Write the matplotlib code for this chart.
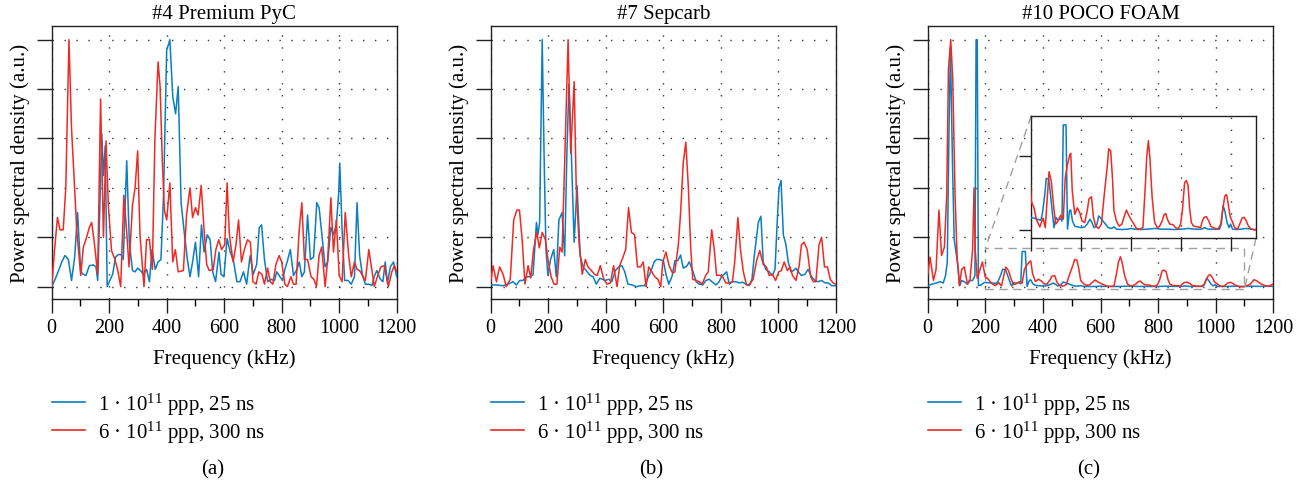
import matplotlib
matplotlib.use("Agg")
import matplotlib.pyplot as plt
from matplotlib.ticker import MultipleLocator
from matplotlib.lines import Line2D
from mpl_toolkits.axes_grid1.inset_locator import mark_inset

plt.rcParams['font.family'] = ['Liberation Serif', 'DejaVu Serif']
plt.rcParams['mathtext.fontset'] = 'custom'
plt.rcParams['mathtext.rm'] = 'Liberation Serif'
plt.rcParams['mathtext.it'] = 'Liberation Serif:italic'

BLUE = '#0b7dc2'
RED = '#ee2a24'

titles = ['#4 Premium PyC', '#7 Sepcarb', '#10 POCO FOAM']
captions = ['(a)', '(b)', '(c)']
series_labels = ['1 · 10$^{11}$ ppp, 25 ns', '6 · 10$^{11}$ ppp, 300 ns']
x_ticks = [0, 200, 400, 600, 800, 1000, 1200]

# ---- #4 Premium PyC ----
a_blue_f = [0, 12, 24, 35, 46, 58, 69, 80, 90, 101, 110, 119, 131, 145, 154, 160, 167, 174, 180, 186, 193,
            200, 212, 222, 232, 241, 249, 261, 270, 281, 290, 299, 309, 319, 330, 340, 349, 360, 370, 380,
            389, 394, 400, 406, 411, 421, 431, 440, 450, 461, 472, 481, 490, 500, 511, 521, 530, 541, 551,
            560, 570, 582, 589, 599, 610, 621, 633, 644, 655, 667, 678, 690, 701, 713, 722, 730, 740, 751,
            763, 775, 783, 794, 803, 811, 820, 830, 841, 853, 861, 870, 879, 890, 900, 911, 922, 930, 939,
            951, 960, 971, 980, 990, 998, 1002, 1010, 1019, 1031, 1042, 1053, 1062, 1071, 1081, 1091, 1103,
            1114, 1123, 1131, 1143, 1152, 1160, 1168, 1178, 1189, 1200]
a_blue_v = [0.0, 0.03, 0.065, 0.10, 0.126, 0.11, 0.025, 0.12, 0.30, 0.06, 0.05, 0.045, 0.085, 0.088, 0.08,
            0.025, 0.30, 0.62, 0.45, 0.57, 0.0,
            0.02, 0.05, 0.12, 0.13, 0.13, 0.11, 0.51, 0.18, 0.065, 0.06, 0.075, 0.065, 0.05, 0.07, 0.02,
            0.15, 0.07, 0.10, 0.11, 0.37, 0.64, 0.96, 0.98, 1.0, 0.77, 0.70, 0.81, 0.34, 0.22, 0.11, 0.04,
            0.10, 0.18, 0.04, 0.25, 0.14, 0.21, 0.19, 0.06, 0.02, 0.14, 0.05, 0.04, 0.195, 0.14, 0.10, 0.02,
            0.02, 0.06, 0.01, 0.125, 0.05, 0.09, 0.24, 0.25, 0.11, 0.02, 0.03, 0.025, 0.06, 0.04, 0.025, 0.07,
            0.105, 0.15, 0.045, 0.07, 0.10, 0.04, 0.06, 0.29, 0.11, 0.12, 0.34, 0.32, 0.22, 0.08, 0.10, 0.24,
            0.21, 0.25, 0.375, 0.50, 0.23, 0.025, 0.025, 0.01, 0.04, 0.34, 0.126, 0.045, 0.01, 0.01, 0.005,
            0.045, 0.065, 0.03, 0.02, 0.10, 0.015, 0.08, 0.10, 0.04]
a_red_f = [0, 10, 20, 29, 40, 49, 60, 69, 81, 87, 101, 110, 119, 131, 139, 148, 160, 170, 180, 189, 197,
           208, 220, 229, 240, 251, 261, 269, 281, 290, 299, 307, 321, 330, 340, 350, 359, 370, 377, 385,
           392, 400, 411, 421, 430, 440, 458, 469, 481, 490, 500, 509, 520, 530, 539, 548, 562, 571, 581,
           591, 602, 610, 618, 631, 641, 650, 660, 670, 681, 691, 700, 711, 720, 731, 740, 751, 760, 769,
           780, 791, 800, 811, 820, 832, 841, 850, 861, 870, 879, 890, 902, 912, 921, 930, 939, 951, 960,
           971, 980, 990, 1000, 1010, 1021, 1033, 1042, 1053, 1062, 1071, 1081, 1091, 1103, 1112, 1122,
           1134, 1145, 1157, 1171, 1183, 1192, 1200]
a_red_v = [0.0, 0.15, 0.28, 0.23, 0.23, 0.40, 1.0, 0.64, 0.37, 0.23, 0.045, 0.16, 0.19, 0.24, 0.26, 0.18,
           0.05, 0.76, 0.20, 0.59, 0.33, 0.146, 0.11, 0.07, 0.0, 0.37, 0.22, 0.08, 0.33, 0.40, 0.55, 0.21,
           0.0, 0.19, 0.19, 0.07, 0.60, 0.91, 0.81, 0.50, 0.31, 0.27, 0.42, 0.10, 0.15, 0.06, 0.065, 0.29,
           0.40, 0.28, 0.32, 0.29, 0.41, 0.23, 0.09, 0.065, 0.07, 0.15, 0.19, 0.15, 0.17, 0.42, 0.21, 0.10,
           0.17, 0.27, 0.10, 0.15, 0.19, 0.18, 0.02, 0.01, 0.06, 0.05, 0.01, 0.075, 0.02, 0.01, 0.09, 0.126,
           0.10, 0.01, 0.0, 0.04, 0.01, 0.01, 0.23, 0.34, 0.11, 0.11, 0.04, 0.03, 0.0, 0.126, 0.16, 0.0,
           0.11, 0.36, 0.14, 0.27, 0.045, 0.02, 0.30, 0.126, 0.04, 0.10, 0.07, 0.065, 0.045, 0.025, 0.15,
           0.08, 0.0, 0.045, 0.08, 0.085, 0.0, 0.06, 0.085, 0.06]

# ---- #7 Sepcarb ----
b_blue_f = [0, 14, 43, 60, 78, 89, 101, 112, 124, 135, 147, 159, 164, 170, 179, 186, 192, 199, 208, 219,
            228, 237, 248, 257, 265, 272, 280, 290, 300, 311, 321, 332, 344, 356, 367, 379, 388, 398, 410,
            421, 433, 445, 456, 466, 477, 491, 506, 523, 535, 544, 556, 568, 576, 587, 600, 609, 619, 631,
            640, 650, 660, 669, 681, 690, 702, 714, 725, 737, 748, 759, 771, 783, 794, 802, 811, 820, 829,
            840, 852, 863, 875, 887, 898, 908, 916, 924, 930, 939, 947, 956, 968, 979, 988, 996, 1002,
            1009, 1017, 1026, 1034, 1043, 1052, 1061, 1069, 1080, 1092, 1103, 1115, 1127, 1138, 1150,
            1162, 1173, 1185, 1200]
b_blue_v = [0.007, 0.007, 0.004, 0.01, 0.02, 0.007, 0.025, 0.025, 0.04, 0.04, 0.047, 0.26, 0.21, 0.26,
            1.0, 0.50, 0.15, 0.045, 0.11, 0.15, 0.04, 0.27, 0.30, 0.125, 0.55, 0.82, 0.55, 0.18, 0.41,
            0.125, 0.08, 0.065, 0.047, 0.04, 0.01, 0.034, 0.03, 0.025, 0.03, 0.02, 0.065, 0.08, 0.085, 0.06,
            0.01, 0.007, 0.0, 0.004, 0.004, 0.03, 0.06, 0.10, 0.11, 0.11, 0.105, 0.05, 0.01, 0.045, 0.105,
            0.105, 0.128, 0.075, 0.082, 0.10, 0.065, 0.02, 0.01, 0.007, 0.025, 0.03, 0.018, 0.007, 0.02,
            0.04, 0.05, 0.06, 0.01, 0.02, 0.02, 0.015, 0.018, 0.01, 0.004, 0.03, 0.125, 0.20, 0.26, 0.285,
            0.10, 0.07, 0.06, 0.045, 0.07, 0.27, 0.40, 0.43, 0.21, 0.17, 0.10, 0.06, 0.065, 0.075, 0.06,
            0.045, 0.05, 0.07, 0.04, 0.025, 0.02, 0.025, 0.015, 0.015, 0.004, 0.004]
b_red_f = [0, 8, 20, 31, 43, 54, 68, 80, 91, 100, 110, 119, 130, 139, 149, 160, 169, 179, 190, 199, 210,
           220, 230, 240, 248, 257, 269, 278, 290, 297, 307, 318, 329, 338, 350, 361, 370, 381, 393, 404,
           416, 427, 439, 448, 460, 469, 479, 489, 500, 510, 521, 530, 540, 549, 560, 570, 581, 591, 598,
           609, 620, 632, 640, 652, 660, 669, 678, 687, 695, 702, 714, 724, 735, 747, 756, 768, 777, 785,
           794, 806, 817, 829, 840, 848, 859, 868, 878, 889, 901, 912, 924, 935, 947, 958, 968, 979, 990,
           1001, 1010, 1020, 1031, 1040, 1049, 1061, 1072, 1080, 1089, 1100, 1112, 1121, 1130, 1141,
           1150, 1160, 1170, 1180, 1190, 1200]
b_red_v = [0.02, 0.085, 0.02, 0.08, 0.05, 0.0, 0.03, 0.27, 0.31, 0.31, 0.18, 0.01, 0.085, 0.035, 0.15,
           0.22, 0.157, 0.22, 0.19, 0.11, 0.04, 0.01, 0.01, 0.16, 0.14, 0.50, 1.0, 0.54, 0.83, 0.41, 0.18,
           0.05, 0.11, 0.08, 0.065, 0.05, 0.045, 0.085, 0.03, 0.01, 0.015, 0.085, 0.0, 0.085, 0.12, 0.15,
           0.32, 0.22, 0.21, 0.08, 0.08, 0.10, 0.0, 0.08, 0.06, 0.04, 0.03, 0.0, 0.10, 0.14, 0.085, 0.055,
           0.06, 0.17, 0.30, 0.50, 0.585, 0.40, 0.16, 0.03, 0.025, 0.02, 0.01, 0.045, 0.06, 0.23, 0.15,
           0.045, 0.047, 0.04, 0.015, 0.015, 0.02, 0.10, 0.28, 0.15, 0.06, 0.007, 0.01, 0.03, 0.105, 0.146,
           0.09, 0.08, 0.045, 0.05, 0.025, 0.06, 0.065, 0.10, 0.065, 0.08, 0.045, 0.025, 0.085, 0.17, 0.18,
           0.15, 0.04, 0.02, 0.02, 0.17, 0.20, 0.08, 0.08, 0.03, 0.015, 0.01]

# ---- #10 POCO FOAM ----
c_blue_f = [0, 14, 31, 43, 54, 62, 68, 74, 79, 86, 92, 100, 106, 111, 118, 127, 138, 147, 156, 164, 168,
            172, 176, 185, 197, 211, 224, 238, 244, 254, 260, 270, 278, 285, 291, 299, 307, 315, 323, 328,
            339, 345, 353, 358, 365, 374, 387, 401, 414, 424, 435, 443, 451, 461, 470, 478, 487, 497, 508,
            521, 531, 541, 561, 587, 601, 614, 641, 667, 694, 721, 747, 774, 801, 828, 854, 881, 894, 908,
            934, 954, 961, 968, 975, 984, 992, 998, 1006, 1021, 1041, 1061, 1081, 1097, 1120, 1150, 1180,
            1200]
c_blue_v = [0.004, 0.01, 0.015, 0.02, 0.015, 0.045, 0.10, 0.64, 0.97, 0.50, 0.19, 0.126, 0.07, 0.004,
            0.025, 0.02, 0.01, 0.025, 0.025, 0.045, 1.0, 1.0, 0.004, 0.007, 0.017, 0.016, 0.0145, 0.013,
            0.021, 0.048, 0.07, 0.069, 0.044, 0.021, 0.003, 0.017, 0.013, 0.016, 0.012, 0.1425, 0.1425,
            0.001, 0.026, 0.027, 0.012, 0.005, 0.004, 0.003, 0.004, 0.008, 0.0145, 0.01, 0.003, 0.005,
            0.019, 0.016, 0.012, 0.008, 0.003, 0.002, 0.004, 0.001, 0.0005, 0.001, 0.002, 0.001, 0.0005,
            0.001, 0.002, 0.001, 0.001, 0.0005, 0.001, 0.002, 0.001, 0.001, 0.003, 0.001, 0.001, 0.001,
            0.008, 0.033, 0.026, 0.01, 0.003, 0.008, 0.001, 0.0005, 0.001, 0.002, 0.001, 0.0, 0.002,
            0.001, 0.002, 0.001]
c_red_f = [0, 8, 20, 29, 39, 48, 58, 66, 72, 80, 87, 95, 102, 110, 118, 127, 138, 147, 156, 161, 165,
           172, 182, 190, 200, 211, 220, 234, 247, 256, 264, 271, 280, 290, 298, 307, 318, 328, 336, 344,
           354, 358, 364, 374, 384, 394, 403, 414, 424, 431, 441, 449, 458, 470, 481, 491, 505, 510, 518,
           525, 531, 541, 552, 563, 571, 581, 590, 601, 611, 621, 634, 647, 657, 662, 669, 675, 684, 694,
           705, 714, 724, 732, 739, 745, 754, 768, 778, 788, 798, 805, 814, 821, 828, 834, 841, 850, 868,
           878, 885, 892, 901, 911, 919, 928, 937, 948, 959, 968, 975, 982, 988, 996, 1004, 1015, 1026,
           1035, 1044, 1053, 1061, 1070, 1081, 1097, 1108, 1120, 1133, 1142, 1154, 1172, 1183, 1200]
c_red_v = [0.045, 0.12, 0.025, 0.07, 0.31, 0.126, 0.16, 0.37, 0.88, 1.0, 0.84, 0.37, 0.126, 0.004, 0.07,
           0.08, 0.01, 0.03, 0.15, 0.40, 0.15, 0.034, 0.07, 0.10, 0.0385, 0.030, 0.0145, 0.004, 0.016,
           0.003, 0.044, 0.079, 0.066, 0.03, 0.008, 0.012, 0.02, 0.0145, 0.071, 0.087, 0.102, 0.104,
           0.053, 0.021, 0.03, 0.0235, 0.012, 0.01, 0.026, 0.042, 0.045, 0.017, 0.005, 0.002, 0.008,
           0.044, 0.089, 0.11, 0.107, 0.071, 0.026, 0.012, 0.005, 0.008, 0.017, 0.027, 0.02, 0.013, 0.008,
           0.002, 0.001, 0.003, 0.062, 0.098, 0.121, 0.098, 0.044, 0.01, 0.003, 0.005, 0.012, 0.021,
           0.022, 0.0145, 0.008, 0.007, 0.003, 0.0014, 0.008, 0.026, 0.064, 0.067, 0.06, 0.03, 0.01,
           0.005, 0.004, 0.003, 0.012, 0.017, 0.018, 0.012, 0.005, 0.003, 0.002, 0.001, 0.008, 0.03,
           0.046, 0.048, 0.037, 0.019, 0.012, 0.003, 0.001, 0.008, 0.016, 0.017, 0.012, 0.005, 0.001,
           0.0, 0.004, 0.01, 0.028, 0.024, 0.013, 0.004, 0.001, 0.011]

panels = [
    (a_blue_f, a_blue_v, a_red_f, a_red_v),
    (b_blue_f, b_blue_v, b_red_f, b_red_v),
    (c_blue_f, c_blue_v, c_red_f, c_red_v),
]

W, H = 1310, 485
fig = plt.figure(figsize=(W / 100, H / 100), dpi=100)

# axes boxes in pixels: left, right, top, bottom
boxes = [(51.7, 396.7), (490.7, 836.0), (927.7, 1273.3)]
top_px, bot_px = 27.3, 300.0

DOTS = (0, (1.0, 7.6))
FS_TICK = 14.5
FS_LABEL = 15
FS_TITLE = 15
FS_LEG = 15
LW = 1.1


def style_axes(ax):
    for sp in ax.spines.values():
        sp.set_linewidth(1.0)
        sp.set_color('#222222')
    ax.tick_params(direction='out', color='#222222', width=1.0)


for i, (bf, bv, rf, rv) in enumerate(panels):
    l, r = boxes[i]
    ax = fig.add_axes([l / W, 1 - bot_px / H, (r - l) / W, (bot_px - top_px) / H])
    ax.plot(bf, bv, color=BLUE, lw=LW, zorder=3)
    ax.plot(rf, rv, color=RED, lw=LW, zorder=3)
    ax.set_xlim(0, 1200)
    ax.set_ylim(-0.05, 1.054)
    ax.set_xticks(x_ticks)
    ax.xaxis.set_minor_locator(MultipleLocator(100))
    ax.set_yticks([0, 0.2, 0.4, 0.6, 0.8, 1.0])
    ax.set_yticklabels([])
    style_axes(ax)
    ax.tick_params(axis='x', which='major', length=10, labelsize=FS_TICK, pad=4)
    ax.tick_params(axis='x', which='minor', length=5, width=1.0)
    ax.tick_params(axis='y', which='major', length=11)
    ax.grid(True, which='major', linestyle=DOTS, color='#333333', linewidth=1.0)
    ax.set_title(titles[i], fontsize=FS_TITLE, pad=6)
    ax.set_xlabel('Frequency (kHz)', fontsize=FS_LABEL, labelpad=8)
    ax.set_ylabel('Power spectral density (a.u.)', fontsize=FS_LABEL, labelpad=1)

    handles = [Line2D([], [], color=BLUE, lw=1.2), Line2D([], [], color=RED, lw=1.2)]
    ax.legend(handles, series_labels, loc='upper left', bbox_to_anchor=(0.0, -0.335),
              frameon=False, fontsize=FS_LEG, handlelength=1.6, handletextpad=0.6,
              labelspacing=0.1, borderpad=0, borderaxespad=0)
    fig.text((l + r) / 2 / W - 12 / W, 1 - 470 / H, captions[i], ha='center', va='center',
             fontsize=FS_LEG)

    if i == 2:
        il, ir, it, ib = 1031.3, 1256.0, 116.7, 239.0
        axins = fig.add_axes([il / W, 1 - ib / H, (ir - il) / W, (ib - it) / H])
        axins.plot(bf, bv, color=BLUE, lw=LW, zorder=3)
        axins.plot(rf, rv, color=RED, lw=LW, zorder=3)
        axins.set_xlim(200, 1100)
        axins.set_ylim(-0.011, 0.155)
        axins.set_xticks([200, 400, 600, 800, 1000])
        axins.set_yticks([0, 0.1])
        axins.set_xticklabels([])
        axins.set_yticklabels([])
        style_axes(axins)
        axins.tick_params(length=9)
        axins.grid(True, axis='x', linestyle=DOTS, color='#333333', linewidth=1.0)
        axins.set_facecolor('white')
        mark_inset(ax, axins, loc1=2, loc2=4, fc='none', ec='#a0a0a0', ls=(0, (6, 4)), lw=1.0)

fig.savefig('out.png', dpi=100)
